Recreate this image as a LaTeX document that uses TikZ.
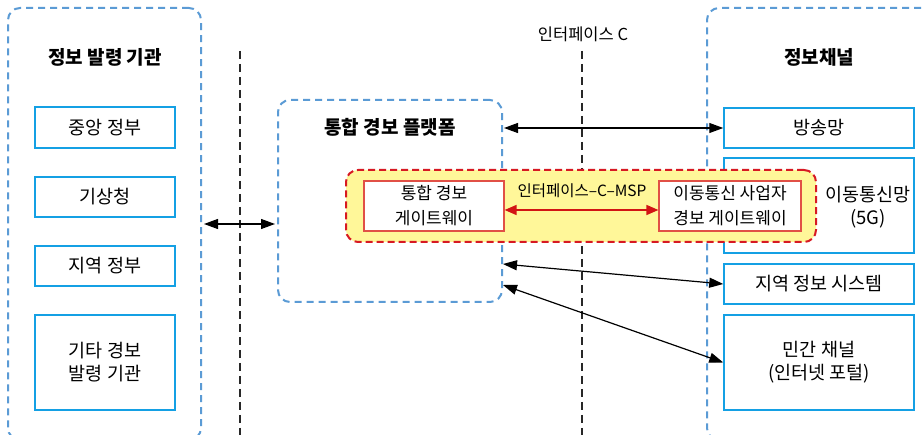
\documentclass[tikz,border=0pt]{standalone}
\usepackage{fontspec}
\setmainfont{Noto Sans CJK KR}
\usetikzlibrary{arrows.meta,calc}
\definecolor{groupblue}{RGB}{91,155,213}
\definecolor{boxblue}{RGB}{20,160,228}
\definecolor{dashred}{RGB}{215,25,35}
\definecolor{innerred}{RGB}{225,80,70}
\definecolor{softyellow}{RGB}{255,247,153}
\definecolor{arrred}{RGB}{210,20,20}
\definecolor{vline}{RGB}{40,40,40}
\begin{document}
\begin{tikzpicture}[x=1pt,y=-1pt,
  grp/.style={draw=groupblue, line width=2pt, dash pattern=on 7pt off 5pt, rounded corners=12pt, inner sep=0pt},
  bbox/.style={draw=boxblue, line width=1.5pt, fill=white, inner sep=0pt, align=center, font=\fontsize{18.5}{23}\selectfont},
  ttl/.style={font=\fontsize{19}{22}\selectfont\bfseries},
  ibox/.style={draw=innerred, line width=1.2pt, fill=white, inner sep=0pt, align=center, font=\fontsize{17}{25}\selectfont},
  vdash/.style={draw=vline, line width=2pt, dash pattern=on 8pt off 5pt},
  dblk/.style={line width=1.2pt, {Triangle[length=14pt,width=10pt]}-{Triangle[length=14pt,width=10pt]}},
  dred/.style={draw=arrred, line width=1.5pt, {Triangle[length=12pt,width=10pt]}-{Triangle[length=12pt,width=10pt]}}
]
\clip (0,0) rectangle (924,435);
\fill[white] (0,0) rectangle (924,435);

% groups
\node[grp, minimum width=193pt, minimum height=432pt] (src) at (104.5,224) {};
\node[grp, minimum width=224pt, minimum height=202pt] (plat) at (390,201) {};
\node[grp, minimum width=238pt, minimum height=432pt] (chn) at (826,224) {};

% titles
\node[ttl] (srct) at (105,57) {정보 발령 기관};
\node[ttl] (platt) at (390,127) {통합 경보 플랫폼};
\node[ttl] (chnt) at (819,57) {정보채널};

% source boxes
\node[bbox, minimum width=140pt, minimum height=41pt] (cg) at (105,127.5) {중앙 정부};
\node[bbox, minimum width=140pt, minimum height=40pt] (kma) at (105,197) {기상청};
\node[bbox, minimum width=140pt, minimum height=40pt] (lg) at (105,266) {지역 정부};
\node[bbox, minimum width=140pt, minimum height=95pt] (oth) at (105,362.5) {기타 경보\\발령 기관};

% channel boxes
\node[bbox, minimum width=190pt, minimum height=40pt] (bc) at (819,128) {방송망};
\node[bbox, minimum width=190pt, minimum height=95pt] (mob) at (819,205.5) {};
\node[bbox, minimum width=190pt, minimum height=40pt] (lis) at (819,284) {지역 정보 시스템};
\node[bbox, minimum width=190pt, minimum height=95pt] (pvt) at (819,362.5) {민간 채널\\(인터넷 포털)};

% interface lines
\coordinate (v1t) at (240,51);
\coordinate (v1b) at (240,440);
\coordinate (v2t) at (582,51);
\coordinate (v2b) at (582,440);
\draw[vdash] (v1t) -- (v1b);
\draw[vdash] (v2t) -- (v2b);
\node[font=\fontsize{16.5}{20}\selectfont] (ifc) at (583,34) {인터페이스 C};

% yellow region
\node[draw=dashred, fill=softyellow, line width=2pt, dash pattern=on 7pt off 4pt, rounded corners=12pt, minimum width=470pt, minimum height=72pt, inner sep=0pt] (msp) at (581,206) {};
\node[ibox, minimum width=140pt, minimum height=50pt] (gw1) at (434,206) {통합 경보\\게이트웨이};
\node[ibox, minimum width=142pt, minimum height=50pt] (gw2) at (730,206) {이동통신 사업자\\경보 게이트웨이};
\node[font=\fontsize{15.5}{18}\selectfont] (mspl) at (582,191) {인터페이스–C–MSP};
\node[align=center, font=\fontsize{18.5}{23}\selectfont] (mobt) at (868,207) {이동통신망\\(5G)};

% connectors
\draw[dblk, shorten <=2pt, shorten >=2pt] (src.east) -- (src.east -| plat.west);
\draw[dblk, shorten <=1pt] (plat.east |- bc.west) -- (bc.west);
\coordinate (p1) at (503,264);
\coordinate (p2) at (503,285);
\draw[dblk] (p1) -- (lis.west);
\draw[dblk] (p2) -- (pvt.west);
\draw[dred] ([yshift=-4pt]gw1.east) -- ([yshift=-4pt]gw2.west);
\end{tikzpicture}
\end{document}
